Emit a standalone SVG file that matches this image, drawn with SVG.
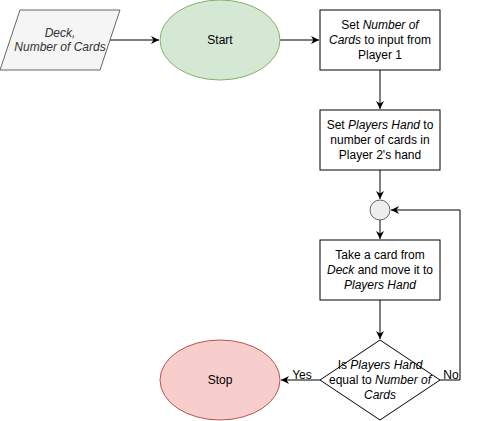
<svg xmlns="http://www.w3.org/2000/svg" width="501" height="421" viewBox="0 0 501 421">
<style>
text{font-family:"Liberation Sans",Arial,sans-serif;font-size:12px;text-anchor:middle;fill:#000}
.i{font-style:italic}
.edge{fill:none;stroke:#000;stroke-width:1}
.box{fill:#fff;stroke:#000;stroke-width:1}
</style>
<defs>
<marker id="arr" viewBox="0 0 10 10" refX="10" refY="5" markerWidth="8" markerHeight="8" markerUnits="userSpaceOnUse" orient="auto">
<path d="M0,0 L10,5 L0,10 L3,5 Z" fill="#000"/>
</marker>
</defs>
<rect width="501" height="421" fill="#fff"/>
<g id="connectors">
<path class="edge" d="M110,40 H159" marker-end="url(#arr)"/>
<path class="edge" d="M280,40 H319" marker-end="url(#arr)"/>
<path class="edge" d="M380,70 V109" marker-end="url(#arr)"/>
<path class="edge" d="M380,170 V199" marker-end="url(#arr)"/>
<path class="edge" d="M380,220 V239" marker-end="url(#arr)"/>
<path class="edge" d="M380,300 V339" marker-end="url(#arr)"/>
<path class="edge" d="M320,380 H281" marker-end="url(#arr)"/>
<path class="edge" d="M440,380 H460 V210 H391" marker-end="url(#arr)"/>
<text x="302" y="379">Yes</text>
<text x="451" y="379">No</text>
</g>
<g id="input">
<polygon points="20,10 120,10 100,70 0,70" fill="#f5f5f5" stroke="#666"/>
<text x="60" y="37" class="i" style="fill:#333">Deck,</text>
<text x="60" y="51" class="i" style="fill:#333">Number of Cards</text>
</g>
<g id="start">
<ellipse cx="220" cy="40" rx="60" ry="40" fill="#d5e8d4" stroke="#82b366"/>
<text x="220" y="44">Start</text>
</g>
<g id="setNumber">
<rect class="box" x="320" y="10" width="120" height="60"/>
<text x="380" y="29">Set <tspan class="i">Number of</tspan></text>
<text x="380" y="44"><tspan class="i">Cards</tspan> to input from</text>
<text x="380" y="59">Player 1</text>
</g>
<g id="setHand">
<rect class="box" x="320" y="110" width="120" height="60"/>
<text x="380" y="129">Set <tspan class="i">Players Hand</tspan> to</text>
<text x="380" y="144">number of cards in</text>
<text x="380" y="159">Player 2's hand</text>
</g>
<g id="merge">
<circle cx="380" cy="210" r="10" fill="#eeeeee" stroke="#666"/>
</g>
<g id="takeCard">
<rect class="box" x="320" y="240" width="120" height="60"/>
<text x="380" y="259">Take a card from</text>
<text x="380" y="274"><tspan class="i">Deck</tspan> and move it to</text>
<text x="380" y="289" class="i">Players Hand</text>
</g>
<g id="decision">
<polygon points="380,340 440,380 380,420 320,380" fill="#fff" stroke="#000"/>
<text x="380" y="369">Is <tspan class="i">Players Hand</tspan></text>
<text x="380" y="384">equal to <tspan class="i">Number of</tspan></text>
<text x="380" y="399" class="i">Cards</text>
</g>
<g id="stop">
<ellipse cx="220" cy="380" rx="60" ry="40" fill="#f8cecc" stroke="#b85450"/>
<text x="220" y="384">Stop</text>
</g>
</svg>
